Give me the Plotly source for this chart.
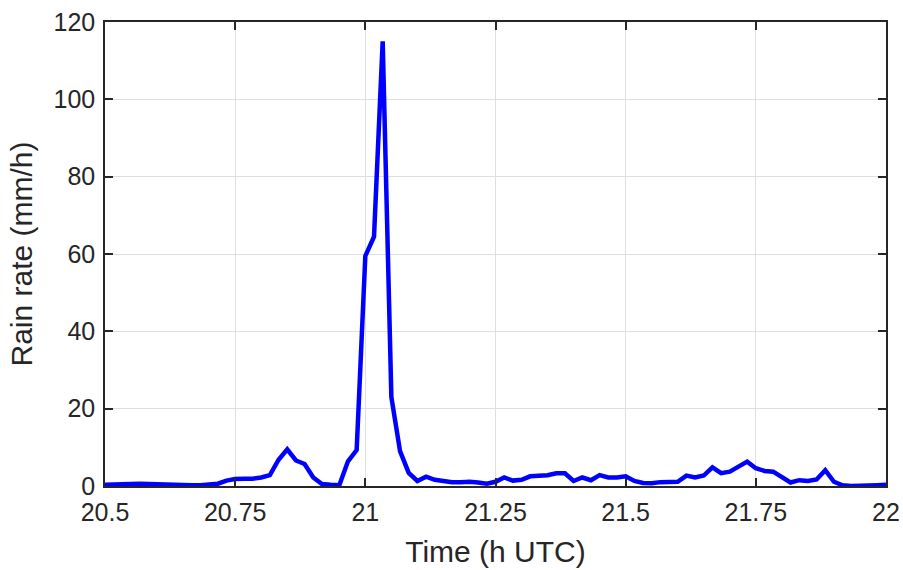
import numpy as np
import plotly.graph_objects as go

# One-minute rain-rate samples starting at 20.5 h UTC
start_hour = 20.5
step_minutes = 1
rain_rate = [
    0.3, 0.3, 0.4, 0.5, 0.6, 0.5, 0.4, 0.3, 0.2, 0.2,
    0.2, 0.2, 0.3, 0.6, 1.4, 1.8, 1.9, 1.9, 2.2, 2.8,
    6.8, 9.5, 6.6, 5.7, 2.2, 0.5, 0.3, 0.2, 6.4, 9.3,
    59.5, 64.5, 115.0, 23.0, 9.0, 3.4, 1.3, 2.4, 1.6, 1.3,
    1.0, 1.0, 1.1, 0.9, 0.6, 1.1, 2.2, 1.4, 1.6, 2.5,
    2.6, 2.8, 3.3, 3.3, 1.3, 2.2, 1.5, 2.8, 2.2, 2.2,
    2.5, 1.3, 0.8, 0.7, 1.0, 1.0, 1.1, 2.7, 2.2, 2.7,
    4.8, 3.3, 3.7, 5.0, 6.3, 4.6, 3.9, 3.7, 2.4, 0.9,
    1.5, 1.3, 1.7, 4.1, 1.1, 0.2, 0.0, 0.0, 0.1, 0.2,
    0.3,
]
time_h = start_hour + np.arange(len(rain_rate)) * step_minutes / 60.0

x_ticks = [20.5, 20.75, 21, 21.25, 21.5, 21.75, 22]
x_tick_labels = ["20.5", "20.75", "21", "21.25", "21.5", "21.75", "22"]
y_ticks = [0, 20, 40, 60, 80, 100, 120]

FONT = "Liberation Sans, Arial, sans-serif"
AXIS_COLOR = "#262626"
GRID_COLOR = "#dfdfdf"

fig = go.Figure(
    go.Scatter(
        x=time_h,
        y=rain_rate,
        mode="lines",
        line=dict(color="#0000ff", width=4.5),
        showlegend=False,
    )
)

axis_common = dict(
    automargin=False,
    showline=True,
    linecolor=AXIS_COLOR,
    linewidth=1.5,
    mirror="ticks",
    ticks="inside",
    ticklen=8,
    tickwidth=1.5,
    tickcolor=AXIS_COLOR,
    showgrid=True,
    gridcolor=GRID_COLOR,
    gridwidth=1,
    zeroline=False,
    tickfont=dict(family=FONT, size=25, color=AXIS_COLOR),
)

fig.update_xaxes(
    range=[20.5, 22],
    tickvals=x_ticks,
    ticktext=x_tick_labels,
    ticklabelstandoff=3,
    title=dict(text="Time (h UTC)", font=dict(family=FONT, size=30, color=AXIS_COLOR), standoff=16),
    **axis_common,
)
fig.update_yaxes(
    range=[0, 120],
    tickvals=y_ticks,
    ticklabelstandoff=3,
    title=dict(text="Rain rate (mm/h)", font=dict(family=FONT, size=30, color=AXIS_COLOR), standoff=12),
    **axis_common,
)

fig.update_layout(
    width=903,
    height=570,
    margin=dict(l=105, r=17, t=22, b=84),
    paper_bgcolor="white",
    plot_bgcolor="white",
)

fig.write_html("out.html")
